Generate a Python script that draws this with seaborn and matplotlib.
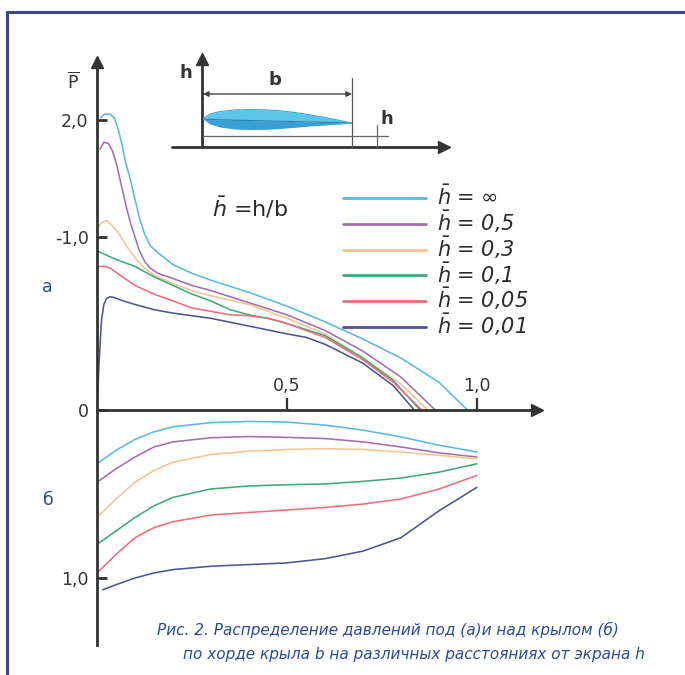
import numpy as np
import pandas as pd
import matplotlib
matplotlib.use("Agg")
import matplotlib.pyplot as plt
import seaborn as sns
from matplotlib.lines import Line2D

# ---------------- data ----------------
series_labels = [r"$\bar{h}$ = ∞", r"$\bar{h}$ = 0,5", r"$\bar{h}$ = 0,3",
                 r"$\bar{h}$ = 0,1", r"$\bar{h}$ = 0,05", r"$\bar{h}$ = 0,01"]
series_colors = ["#5ab9e0", "#a46eae", "#f2c394", "#3fa97a", "#e8707e", "#4e5590"]

# (a) under the wing
up_x_inf = [0.01, 0.02, 0.035, 0.045, 0.055, 0.065, 0.075, 0.088, 0.1, 0.113, 0.125, 0.14, 0.16,
            0.2, 0.25, 0.3, 0.4, 0.5, 0.6, 0.7, 0.8, 0.9, 0.975]
up_p_inf = [2.02, 2.05, 2.05, 2.02, 1.93, 1.80, 1.64, 1.49, 1.32, 1.15, 1.03, 0.95, 0.91,
            0.84, 0.79, 0.75, 0.68, 0.60, 0.51, 0.41, 0.30, 0.16, 0.0]
up_x_05 = [0.008, 0.018, 0.03, 0.04, 0.05, 0.06, 0.07, 0.08, 0.09, 0.1, 0.11, 0.125, 0.14, 0.16,
           0.2, 0.25, 0.3, 0.4, 0.5, 0.6, 0.7, 0.8, 0.89]
up_p_05 = [1.75, 1.81, 1.80, 1.74, 1.64, 1.50, 1.36, 1.22, 1.10, 1.00, 0.93, 0.86, 0.82, 0.79,
           0.76, 0.72, 0.69, 0.62, 0.55, 0.46, 0.34, 0.19, 0.0]
up_x_03 = [0.0, 0.01, 0.025, 0.04, 0.06, 0.08, 0.1, 0.12, 0.15, 0.2, 0.25, 0.3, 0.4, 0.5, 0.6,
           0.7, 0.8, 0.87]
up_p_03 = [1.06, 1.12, 1.14, 1.10, 1.02, 0.94, 0.88, 0.83, 0.78, 0.73, 0.69, 0.66, 0.61, 0.53,
           0.44, 0.30, 0.15, 0.0]
up_x_01 = [0.0, 0.05, 0.1, 0.15, 0.2, 0.25, 0.3, 0.35, 0.4, 0.45, 0.5, 0.6, 0.7, 0.78, 0.85]
up_p_01 = [0.92, 0.87, 0.83, 0.77, 0.72, 0.67, 0.63, 0.58, 0.55, 0.53, 0.50, 0.43, 0.30, 0.17, 0.0]
up_x_005 = [0.0, 0.02, 0.035, 0.06, 0.1, 0.15, 0.2, 0.25, 0.3, 0.35, 0.4, 0.45, 0.5, 0.55, 0.6,
            0.7, 0.78, 0.855]
up_p_005 = [0.83, 0.83, 0.82, 0.78, 0.72, 0.67, 0.63, 0.59, 0.57, 0.55, 0.545, 0.53, 0.50, 0.46,
            0.42, 0.29, 0.16, 0.0]
up_x_001 = [0.0, 0.004, 0.008, 0.012, 0.018, 0.025, 0.035, 0.045, 0.07, 0.1, 0.15, 0.2, 0.3, 0.4,
            0.5, 0.55, 0.6, 0.7, 0.78, 0.835]
up_p_001 = [0.0, 0.2, 0.38, 0.52, 0.61, 0.645, 0.655, 0.65, 0.63, 0.61, 0.58, 0.56, 0.53, 0.485,
            0.44, 0.42, 0.38, 0.27, 0.14, 0.0]

# (б) above the wing (plotted downward)
lo_x = [0.0, 0.05, 0.1, 0.15, 0.2, 0.3, 0.4, 0.5, 0.6, 0.7, 0.8, 0.9, 1.0]
lo_x_001 = [0.015, 0.05, 0.1, 0.15, 0.2, 0.3, 0.4, 0.5, 0.6, 0.7, 0.8, 0.9, 1.0]
lo_p_inf = [-0.32, -0.24, -0.175, -0.13, -0.10, -0.075, -0.068, -0.072, -0.09, -0.12, -0.16, -0.21, -0.25]
lo_p_05 = [-0.43, -0.35, -0.28, -0.22, -0.19, -0.165, -0.158, -0.163, -0.17, -0.19, -0.22, -0.255, -0.28]
lo_p_03 = [-0.64, -0.53, -0.43, -0.36, -0.31, -0.265, -0.245, -0.235, -0.23, -0.235, -0.25, -0.27, -0.29]
lo_p_01 = [-0.80, -0.72, -0.64, -0.57, -0.52, -0.47, -0.452, -0.445, -0.44, -0.425, -0.405, -0.37, -0.32]
lo_p_005 = [-0.97, -0.86, -0.76, -0.70, -0.665, -0.625, -0.61, -0.595, -0.58, -0.56, -0.53, -0.47, -0.39]
lo_p_001 = [-1.07, -1.04, -1.00, -0.97, -0.95, -0.93, -0.92, -0.91, -0.885, -0.84, -0.76, -0.60, -0.46]

y_tick_values = [2.0, 1.0, 0.0, -1.0]
y_tick_labels = ["2,0", "-1,0", "0", "1,0"]
x_tick_values = [0.5, 1.0]
x_tick_labels = ["0,5", "1,0"]

caption1 = "Рис. 2. Распределение давлений под (а)и над крылом (б)"
caption2 = "по хорде крыла b на различных расстояниях от экрана h"

# ---------------- build tables ----------------
upper = [(up_x_inf, up_p_inf), (up_x_05, up_p_05), (up_x_03, up_p_03),
         (up_x_01, up_p_01), (up_x_005, up_p_005), (up_x_001, up_p_001)]
lower = [(lo_x, lo_p_inf), (lo_x, lo_p_05), (lo_x, lo_p_03),
         (lo_x, lo_p_01), (lo_x, lo_p_005), (lo_x_001, lo_p_001)]

def table(pairs):
    frames = []
    for lab, (xs, ps) in zip(series_labels, pairs):
        frames.append(pd.DataFrame({"x": xs, "p": ps, "h": lab}))
    return pd.concat(frames, ignore_index=True)

df_up = table(upper)
df_lo = table(lower)

# ---------------- style ----------------
sns.set_theme(style="white")
plt.rcParams["font.family"] = ["DejaVu Sans"]
plt.rcParams["mathtext.fontset"] = "dejavusans"
AX = "#333333"
W, H = 685, 675

fig = plt.figure(figsize=(6.85, 6.75), dpi=100)
fig.patch.set_facecolor("white")

# main axes (pixel layout)
L, R, T, B = 97, 537, 62, 645
ax = fig.add_axes([L / W, (H - B) / H, (R - L) / W, (B - T) / H])
ax.set_facecolor("white")

sns.lineplot(data=df_up, x="x", y="p", hue="h", hue_order=series_labels,
             palette=series_colors, estimator=None, sort=False, lw=1.15, ax=ax, legend=True)
sns.lineplot(data=df_lo, x="x", y="p", hue="h", hue_order=series_labels,
             palette=series_colors, estimator=None, sort=False, lw=1.15, ax=ax, legend=False)

# schematic, piecewise-linear pressure axis
def fwd(y):
    y = np.asarray(y, dtype=float)
    return np.where(y < 0, y * 168.0, np.where(y < 1, y * 173.0, 173.0 + (y - 1) * 117.0))

def inv(v):
    v = np.asarray(v, dtype=float)
    return np.where(v < 0, v / 168.0, np.where(v < 173.0, v / 173.0, 1 + (v - 173.0) / 117.0))

ax.set_yscale("function", functions=(fwd, inv))
ax.set_xlim(0, (R - L) / 380.0)
ax.set_ylim(-(B - 410) / 168.0, 2 + (410 - T - 290) / 117.0)

for s in ["top", "right"]:
    ax.spines[s].set_visible(False)
ax.spines["bottom"].set_position(("data", 0))
ax.spines["left"].set_position(("data", 0))
for s in ["left", "bottom"]:
    ax.spines[s].set_color(AX)
    ax.spines[s].set_linewidth(2)
ax.plot(1, 0, ">", color=AX, ms=9, transform=ax.get_yaxis_transform(), clip_on=False)
ax.plot(0, 1, "^", color=AX, ms=9, transform=ax.get_xaxis_transform(), clip_on=False)

ax.set_yticks(y_tick_values)
ax.set_yticklabels(y_tick_labels)
ax.set_xticks(x_tick_values)
ax.set_xticklabels(x_tick_labels)
ax.minorticks_off()
ax.xaxis.set_ticks_position("bottom")
ax.yaxis.set_ticks_position("left")
ax.tick_params(axis="y", direction="in", length=7, width=2, color=AX, labelcolor=AX,
               labelsize=12.5, pad=6)
ax.tick_params(axis="x", direction="in", length=9, width=1.6, color=AX, labelcolor=AX,
               labelsize=12.5, pad=-24)
ax.set_xlabel("")
ax.set_ylabel("")
ax.grid(False)

# legend
handles, labels = ax.get_legend_handles_labels()
ax.get_legend().remove()
leg = ax.legend(handles, labels, loc="upper left", bbox_to_anchor=(343 / W, 1 - 185 / H),
                bbox_transform=fig.transFigure, frameon=False, borderpad=0, borderaxespad=0,
                handlelength=4.0, handletextpad=0.5, labelspacing=-0.02,
                prop={"size": 15, "style": "italic"})
for ln in leg.get_lines():
    ln.set_linewidth(2.0)
for t in leg.get_texts():
    t.set_color("#2a2a2a")

# texts
fig.text(73 / W, 1 - 82 / H, r"$\overline{\mathrm{P}}$", fontsize=12.5, color=AX,
         ha="center", va="center")
fig.text(250 / W, 1 - 208 / H, r"$\bar{h}$ =h/b", fontsize=16, color="#2a2a2a",
         ha="center", va="center")
fig.text(47 / W, 1 - 287 / H, "а", fontsize=12.5, color="#2b4b94", ha="center", va="center")
fig.text(48 / W, 1 - 500 / H, "б", fontsize=12.5, color="#2b4b94", ha="center", va="center")
fig.text(157 / W, 1 - 630 / H, caption1, fontsize=11.0, color="#2b4b94", style="italic",
         ha="left", va="center")
fig.text(183 / W, 1 - 654 / H, caption2, fontsize=11.0, color="#2b4b94", style="italic",
         ha="left", va="center")

# frame lines
fig.add_artist(Line2D([7 / W, 1.0], [1 - 12 / H, 1 - 12 / H], transform=fig.transFigure,
                      color="#3b4682", lw=2.2))
fig.add_artist(Line2D([7 / W, 7 / W], [0.0, 1 - 12 / H], transform=fig.transFigure,
                      color="#3b4682", lw=2.2))

# inset sketch (pixel coordinates)
ax2 = fig.add_axes([160 / W, 1 - 160 / H, 300 / W, 115 / H])
ax2.set_xlim(160, 460)
ax2.set_ylim(160, 45)
ax2.axis("off")
ax2.plot([172, 442], [147, 147], color=AX, lw=2)
ax2.plot([444], [147], ">", color=AX, ms=8)
ax2.plot([202, 202], [147, 62], color=AX, lw=2)
ax2.plot([202], [59], "^", color=AX, ms=8)
foil_x = [203, 210, 220, 235, 250, 265, 280, 295, 310, 325, 340, 352]
foil_up = [119, 114, 111.5, 110, 109.5, 109.8, 110.8, 112.5, 114.8, 117.5, 120.5, 123]
foil_lo = [119, 124, 127, 129, 129.5, 129.3, 128.5, 127.3, 126, 125, 124, 123]
foil_mid = [119, 119.4, 119.8, 120.2, 120.5, 120.9, 121.2, 121.6, 122, 122.4, 122.7, 123]
ax2.fill_between(foil_x, foil_up, foil_mid, color="#5cc6e8", lw=0)
ax2.fill_between(foil_x, foil_mid, foil_lo, color="#3a9fd2", lw=0)
ax2.plot(foil_x, foil_mid, color="#2f7fb5", lw=0.8)
ax2.plot(foil_x, foil_up, color="#3aa8d8", lw=0.8)
ax2.annotate("", xy=(203, 94), xytext=(352, 94),
             arrowprops=dict(arrowstyle="<|-|>", color="#444444", lw=1.0,
                             mutation_scale=8, shrinkA=0, shrinkB=0))
ax2.plot([352, 352], [78, 147], color="#555555", lw=0.9)
ax2.plot([203, 388], [136, 136], color="#666666", lw=0.9)
ax2.plot([377, 377], [125, 147], color="#666666", lw=0.9)
ax2.text(186, 73, "h", fontsize=13, color=AX, ha="center", va="center", fontweight="bold")
ax2.text(275, 80, "b", fontsize=13, color=AX, ha="center", va="center", fontweight="bold")
ax2.text(387, 119, "h", fontsize=13, color=AX, ha="center", va="center", fontweight="bold")

fig.savefig("out.png", dpi=100)
